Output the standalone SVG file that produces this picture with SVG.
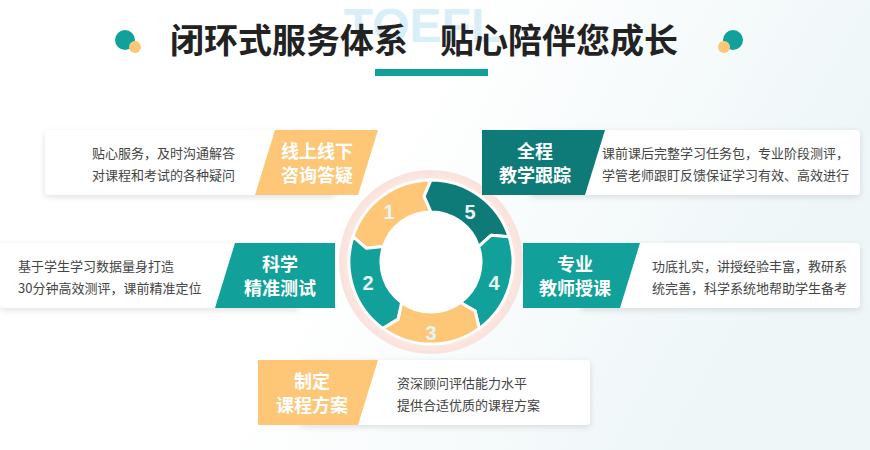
<svg xmlns="http://www.w3.org/2000/svg" width="870" height="450" viewBox="0 0 870 450">
<defs>
<linearGradient id="bg" x1="0" y1="0" x2="1" y2="0.3"><stop offset="0.5" stop-color="#ffffff"/><stop offset="1" stop-color="#eef6f8"/></linearGradient>
<radialGradient id="ring" cx="0.5" cy="0.5" r="0.5"><stop offset="0.7" stop-color="#fdf3ec"/><stop offset="1" stop-color="#fbe2dc"/></radialGradient>
<filter id="sh" x="-10%" y="-20%" width="120%" height="150%"><feDropShadow dx="0" dy="2" stdDeviation="3" flood-color="#000" flood-opacity="0.12"/></filter>
<path id="seg" d="M66.34,48.20 A82,82 0 0 0 66.34,-48.20 L49.05,-44.16 L40.45,-29.39 A50,50 0 0 1 40.45,29.39 L57.16,33 Z"/>
</defs>
<style>
.card{fill:#fff;filter:url(#sh)}
.desc{font-family:"Noto Sans CJK SC",sans-serif;font-size:13px;fill:#444}
.tab{font-family:"Noto Sans CJK SC",sans-serif;font-size:18px;font-weight:bold;fill:#fff;text-anchor:middle}
.num{font-family:"Liberation Sans",sans-serif;font-size:20px;font-weight:bold;fill:#e6f4f2;text-anchor:middle}
.ttl{font-family:"Noto Sans CJK SC",sans-serif;font-size:34px;font-weight:bold;fill:#222}
.y{fill:#fdc777}.t{fill:#12a09a}.d{fill:#0f7b78}
</style>
<rect width="870" height="450" fill="url(#bg)"/>
<text x="422" y="42" font-family="Liberation Sans,sans-serif" font-size="48" font-weight="bold" fill="#d8eff7" text-anchor="middle">TOEFL</text>
<g id="title">
<circle cx="125" cy="40" r="10" fill="#12a09a"/><circle cx="135" cy="47" r="6" fill="#fdc777"/>
<circle cx="733" cy="40" r="10" fill="#12a09a"/><circle cx="724" cy="47" r="6" fill="#fdc777"/>
<text class="ttl" x="170" y="53">闭环式服务体系</text>
<text class="ttl" x="440" y="53">贴心陪伴您成长</text>
<rect x="375" y="69" width="113" height="7" fill="#12a09a"/>
</g>
<g id="cycle">
<circle cx="431" cy="262" r="92" fill="url(#ring)"/>
<circle cx="431" cy="262" r="52" fill="#fff"/>
<g transform="translate(431,262)" stroke="#fff" stroke-width="3" stroke-linejoin="round">
<use href="#seg" class="y" transform="rotate(-126)"/>
<use href="#seg" class="d" transform="rotate(-54)"/>
<use href="#seg" class="t" transform="rotate(18)"/>
<use href="#seg" class="y" transform="rotate(90)"/>
<use href="#seg" class="t" transform="rotate(162)"/>
</g>
<text class="num" x="389" y="219">1</text><text class="num" x="470" y="219">5</text>
<text class="num" x="494" y="290">4</text><text class="num" x="431" y="340">3</text>
<text class="num" x="368" y="290">2</text>
</g>
<g id="n1">
<rect class="card" x="45" y="130" width="290" height="65" rx="4"/>
<path d="M275,130 H378 L358,195 H255 Z" class="y"/>
<text class="tab" x="317" y="158">线上线下</text><text class="tab" x="317" y="182">咨询答疑</text>
<text class="desc" x="235" y="158" text-anchor="end">贴心服务，及时沟通解答</text>
<text class="desc" x="235" y="180" text-anchor="end">对课程和考试的各种疑问</text>
</g>
<g id="n5">
<rect class="card" x="530" y="130" width="330" height="65" rx="4"/>
<path d="M482,130 H605 L585,195 H482 Z" class="d"/>
<text class="tab" x="535" y="158">全程</text><text class="tab" x="535" y="182">教学跟踪</text>
<text class="desc" x="602" y="158">课前课后完整学习任务包，专业阶段测评，</text>
<text class="desc" x="602" y="180">学管老师跟盯反馈保证学习有效、高效进行</text>
</g>
<g id="n2">
<rect class="card" x="0" y="243" width="300" height="65" rx="4"/>
<path d="M235,243 H335 V308 H215 Z" class="t"/>
<text class="tab" x="280" y="271">科学</text><text class="tab" x="280" y="295">精准测试</text>
<text class="desc" x="18" y="271">基于学生学习数据量身打造</text>
<text class="desc" x="18" y="293">30分钟高效测评，课前精准定位</text>
</g>
<g id="n4">
<rect class="card" x="580" y="243" width="280" height="65" rx="4"/>
<path d="M523,243 H640 L620,308 H523 Z" class="t"/>
<text class="tab" x="575" y="271">专业</text><text class="tab" x="575" y="295">教师授课</text>
<text class="desc" x="652" y="271">功底扎实，讲授经验丰富，教研系</text>
<text class="desc" x="652" y="293">统完善，科学系统地帮助学生备考</text>
</g>
<g id="n3">
<rect class="card" x="300" y="360" width="290" height="65" rx="4"/>
<path d="M258,360 H378 L358,425 H258 Z" class="y"/>
<text class="tab" x="312" y="388">制定</text><text class="tab" x="312" y="412">课程方案</text>
<text class="desc" x="397" y="388">资深顾问评估能力水平</text>
<text class="desc" x="397" y="410">提供合适优质的课程方案</text>
</g>
<g id="connectors"/>
</svg>
